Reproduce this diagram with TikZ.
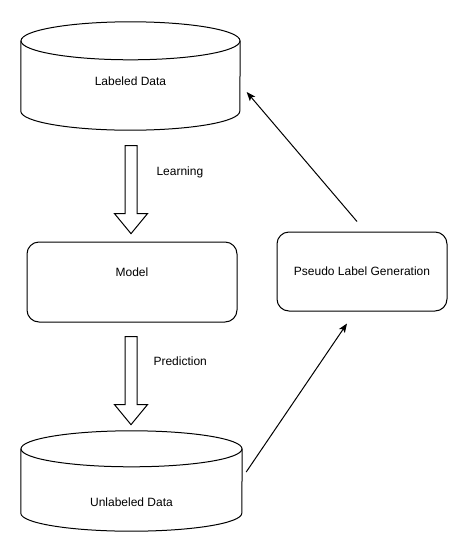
\documentclass[tikz,border=0pt]{standalone}
\usepackage{fontspec}
\setmainfont{Liberation Sans}
\usetikzlibrary{shapes.arrows,arrows.meta,calc,positioning}
\tikzset{
  datastore/.style={draw=none,inner sep=0pt,minimum width=219pt,minimum height=108pt},
  procbox/.style={draw,line width=1pt,rounded corners=12pt,inner sep=0pt},
  flowarrow/.style={single arrow,draw,line width=1pt,rotate=-90,inner sep=5.5pt,
    minimum height=88pt,single arrow head extend=10.5pt,single arrow head indent=0pt,
    single arrow tip angle=79},
  link/.style={line width=1pt,-{Stealth[length=9pt,width=7pt,inset=2pt]}},
  txt/.style={font=\fontsize{12}{14}\selectfont}
}
% cylinder outline round a datastore node: #1 node, #2 half width, #3 ellipse radius
\newcommand\storeoutline[3]{%
  \draw[line width=1pt]($(#1.north)+(0,#3)$)ellipse[x radius=#2,y radius=#3];
  \draw[line width=1pt]($(#1.north west)+(0,#3)$)--($(#1.south west)+(0,-#3)$)
    arc[start angle=180,end angle=0,x radius=#2,y radius=#3]--($(#1.north east)+(0,#3)$);
}
\begin{document}
\begin{tikzpicture}[x=1pt,y=-1pt,txt]
\useasboundingbox[fill=white](0,0)rectangle(468,552);
%stores and boxes
\node[datastore,label={[yshift=-5pt]center:Labeled Data}](labeled)at(130.5,76){};
\storeoutline{labeled}{109.5}{19}
\node[procbox,minimum width=210pt,minimum height=80pt,label={[yshift=10pt]center:Model}](model)at(132,282){};
\node[procbox,minimum width=170pt,minimum height=79pt](pseudo)at(362,271.5){Pseudo Label Generation};
\node[datastore,minimum width=221pt,minimum height=100pt,label={[yshift=-21pt]center:Unlabeled Data}](unlabeled)at(131.5,481){};
\storeoutline{unlabeled}{110.5}{18}
%hollow arrows
\node[flowarrow](learn)at(131,186){};
\node[flowarrow](predict)at(131,377){};
\node[anchor=west](learntxt)at(153,172){Learning};
\node[anchor=west](predicttxt)at(150,361){Prediction};
%loop back
\coordinate(upA)at($(unlabeled.east)+(4,-9)$);
\coordinate(upB)at($(pseudo.south)+(-15,12)$);
\coordinate(backA)at($(pseudo.north)+(-5,-10)$);
\coordinate(backB)at($(labeled.east)+(6.5,16)$);
\draw[link](upA)--(upB);
\draw[link](backA)--(backB);
\end{tikzpicture}
\end{document}
